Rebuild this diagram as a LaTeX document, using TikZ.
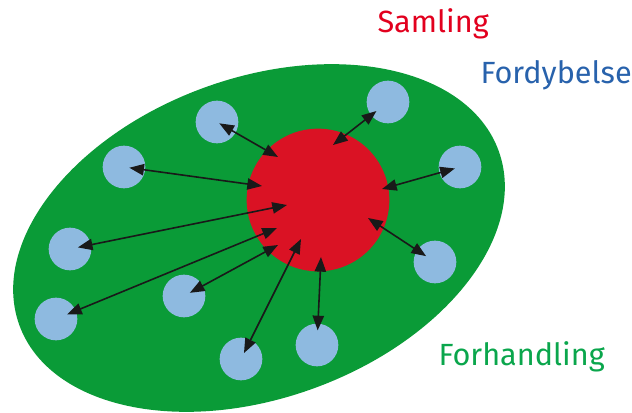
\documentclass[tikz,border=0pt]{standalone}
\usepackage{fontspec}
\setmainfont{Fira Sans}
\usetikzlibrary{arrows.meta}
\tikzset{every picture/.style={line width=0.75pt}}

\definecolor{fieldgreen}{RGB}{10,155,55}
\definecolor{corered}{RGB}{218,18,36}
\definecolor{memberblue}{RGB}{142,186,224}
\definecolor{samlingred}{RGB}{226,0,30}
\definecolor{fordybelseblue}{RGB}{40,98,172}
\definecolor{forhandlinggreen}{RGB}{10,166,76}

\begin{document}
\begin{tikzpicture}[x=0.75pt,y=0.75pt,yscale=-1,xscale=1,
  member/.style={circle,fill=memberblue,minimum size=32pt,inner sep=0pt},
  link/.style={{Triangle[length=11pt,width=8.5pt]}-{Triangle[length=11pt,width=8.5pt]},line width=1.2pt,color=black!90},
  heading/.style={anchor=base west,inner sep=0pt,font=\fontsize{23pt}{27pt}\selectfont}]
\useasboundingbox (0,0) rectangle (632,413);

%Shape: Ellipse [id:field]
\fill [fieldgreen, rotate around={-20:(259,238)}] (259,238) ellipse (255 and 160);

%Shape: Circle [id:core]
\node [circle, fill=corered, minimum size=107pt, inner sep=0pt] (core) at (318,200) {};

%Shape: Circle [id:members]
\node [member] (b1) at (217,122) {};
\node [member] (b2) at (388,102) {};
\node [member] (b3) at (124,167) {};
\node [member] (b4) at (460,167) {};
\node [member] (b5) at (70,249) {};
\node [member] (b6) at (435,262) {};
\node [member] (b7) at (184,296) {};
\node [member] (b8) at (56,319) {};
\node [member] (b9) at (317,345) {};
\node [member] (b10) at (241,359) {};

%Inner ends
\coordinate (c1) at (278,157);
\coordinate (c2) at (333,145);
\coordinate (c3) at (262,186);
\coordinate (c4) at (382,189);
\coordinate (c5) at (287,205);
\coordinate (c6) at (368,218);
\coordinate (c7) at (278,245);
\coordinate (c8) at (277,228);
\coordinate (c9) at (321,257);
\coordinate (c10) at (301,239);

%Straight Lines
\draw [link, shorten >=2pt] (c1) -- (b1.center);
\draw [link, shorten >=11pt] (c2) -- (b2.center);
\draw [link, shorten >=4pt] (c3) -- (b3.center);
\draw [link, shorten >=4pt] (c4) -- (b4.center);
\draw [link, shorten >=6pt] (c5) -- (b5.center);
\draw [link, shorten >=8pt] (c6) -- (b6.center);
\draw [link, shorten >=5pt] (c7) -- (b7.center);
\draw [link, shorten >=9pt] (c8) -- (b8.center);
\draw [link, shorten >=11pt] (c9) -- (b9.center);
\draw [link, shorten >=5pt] (c10) -- (b10.center);

% Text Node
\draw (377,33) node [heading, text=samlingred] (samling) {Samling};
% Text Node
\draw (480,84) node [heading, text=fordybelseblue] (fordybelse) {Fordybelse};
% Text Node
\draw (438,365) node [heading, text=forhandlinggreen] (forhandling) {Forhandling};

\end{tikzpicture}
\end{document}
